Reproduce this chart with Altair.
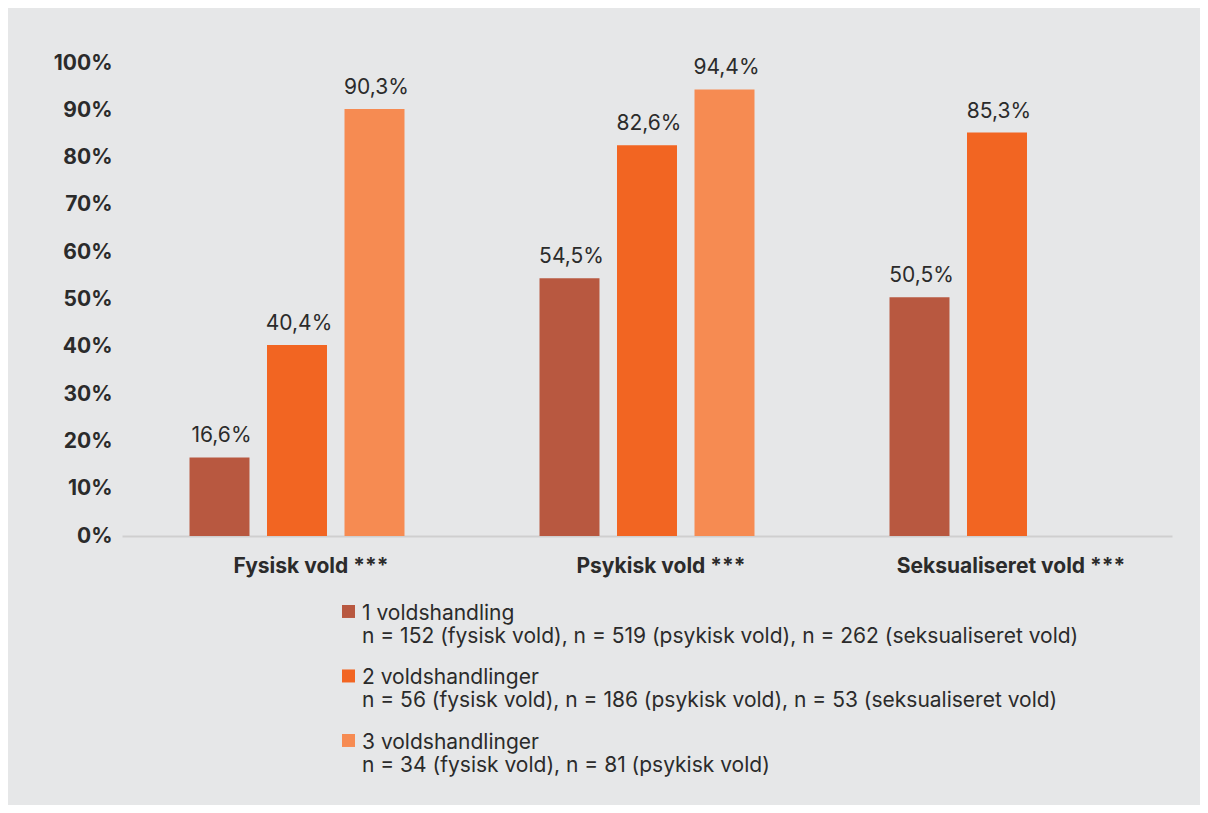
import altair as alt
import pandas as pd

categories = ["Fysisk vold ***", "Psykisk vold ***", "Seksualiseret vold ***"]
series = ["1 voldshandling", "2 voldshandlinger", "3 voldshandlinger"]
n_lines = [
    "n = 152 (fysisk vold), n = 519 (psykisk vold), n = 262 (seksualiseret vold)",
    "n = 56 (fysisk vold), n = 186 (psykisk vold), n = 53 (seksualiseret vold)",
    "n = 34 (fysisk vold), n = 81 (psykisk vold)",
]
values_1 = [16.6, 54.5, 50.5]
values_2 = [40.4, 82.6, 85.3]
values_3 = [90.3, 94.4, None]
colors = ["#b85840", "#f26522", "#f68b52"]
y_ticks = list(range(0, 101, 10))

FONT = "Inter"
TXT = "#2b2b2b"
BG = "#e6e7e8"
FS = 21

legend_keys = [f"{s}|{n}" for s, n in zip(series, n_lines)]
rows = []
for key, vals in zip(legend_keys, [values_1, values_2, values_3]):
    for c, v in zip(categories, vals):
        if v is not None:
            rows.append({"kategori": c, "serie": key, "andel": v})
df = pd.DataFrame(rows)

base = alt.Chart(df).encode(
    x=alt.X(
        "kategori:N",
        sort=categories,
        scale=alt.Scale(paddingInner=0, paddingOuter=0),
        axis=alt.Axis(
            title=None,
            labelAngle=0,
            labelFont=FONT,
            labelFontSize=FS,
            labelFontWeight="bold",
            labelColor=TXT,
            labelPadding=19,
            labelOffset=14,
            labelLimit=500,
            ticks=False,
            domain=True,
            domainColor="#cfcfcf",
            domainWidth=2,
            grid=False,
        ),
    ),
    xOffset=alt.XOffset(
        "serie:N",
        sort=legend_keys,
        scale=alt.Scale(domain=legend_keys, paddingInner=0.226, paddingOuter=0.871),
    ),
    y=alt.Y(
        "andel:Q",
        scale=alt.Scale(domain=[0, 100], nice=False),
        axis=alt.Axis(
            title=None,
            values=y_ticks,
            labelExpr="datum.value + '%'",
            labelFont=FONT,
            labelFontSize=FS,
            labelFontWeight="bold",
            labelColor=TXT,
            labelPadding=10,
            ticks=False,
            domain=False,
            grid=False,
        ),
    ),
)

bars = base.mark_bar().encode(
    color=alt.Color(
        "serie:N",
        scale=alt.Scale(domain=legend_keys, range=colors),
        legend=alt.Legend(
            title=None,
            orient="none",
            legendX=216,
            legendY=529,
            direction="vertical",
            symbolType="M-1,0.38H1V2.38H-1Z",
            symbolSize=169,
            symbolStrokeWidth=0,
            symbolOpacity=1,
            labelExpr="split(datum.label, '|')",
            labelFont=FONT,
            labelFontSize=FS,
            labelColor=TXT,
            labelOffset=3,
            labelLimit=1000,
            labelBaseline="top",
            rowPadding=9.5,
            padding=0,
        ),
    )
)

labels = base.mark_text(
    baseline="alphabetic", dy=-15, dx=2, font=FONT, fontSize=FS, color=TXT
).encode(
    text=alt.Text("lbl:N")
).transform_calculate(
    lbl="replace(format(datum.andel, '.1f'), '.', ',') + '%'"
)

chart = (
    alt.layer(bars, labels)
    .properties(
        width=1050,
        height=473,
        autosize="none",
        padding={"left": 114, "top": 55, "right": 28, "bottom": 269},
        background=BG,
    )
    .configure(style={"guide-label": {"lineHeight": 23}})
    .configure_view(stroke=None)
)

chart.save("out.html", embed_options={"renderer": "svg", "actions": False})
